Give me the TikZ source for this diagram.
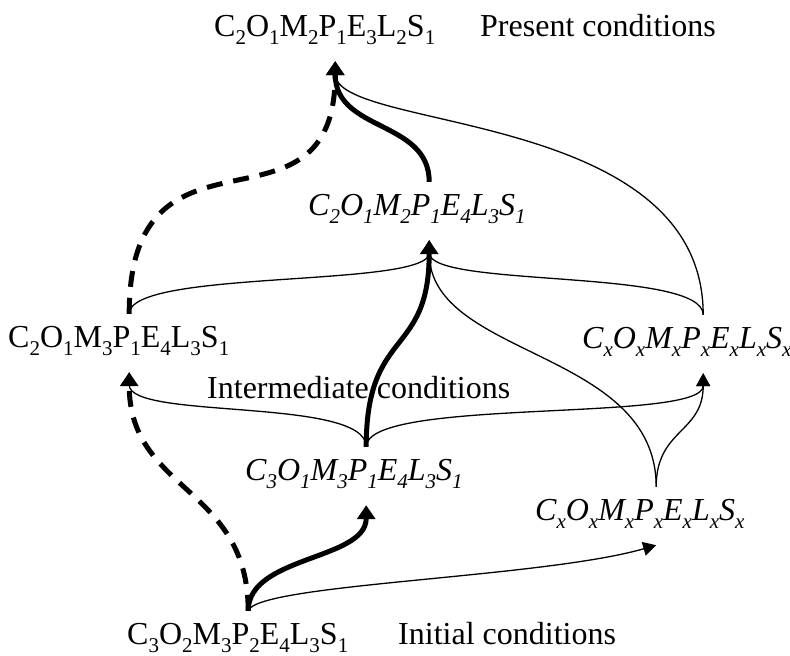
\documentclass[tikz,border=0pt]{standalone}
\usepackage{fontspec}
\setmainfont{Liberation Serif}
\usetikzlibrary{arrows.meta}
\newcommand{\sbs}[1]{\raisebox{-8pt}{\fontsize{21pt}{21pt}\selectfont #1}}

\begin{document}
\begin{tikzpicture}[
		x=1pt, y=-1pt,
		every node/.style={inner sep=0pt, anchor=base west, font=\fontsize{32pt}{38pt}\selectfont},
		state/.style={text width=242pt, text height=33pt, text depth=25pt},
		thin arrow/.style={line width=1.3pt, -{Triangle[width=14pt, length=13pt]}},
		thick arrow/.style={line width=5pt, -{Triangle[width=18pt, length=14pt]}},
		dashed arrow/.style={thick arrow, dash pattern=on 16pt off 11pt}
	]
  \useasboundingbox (0,0) rectangle (790,656);
  \node[state] (s_pres) at (214,36) {C\sbs{2}O\sbs{1}M\sbs{2}P\sbs{1}E\sbs{3}L\sbs{2}S\sbs{1}};
  \node (pres_label) at (480,36) {Present conditions};
  \node[state] (s_e) at (308,215) {\itshape C\sbs{2}O\sbs{1}M\sbs{2}P\sbs{1}E\sbs{4}L\sbs{3}S\sbs{1}};
  \node[state] (s_c) at (8,347) {C\sbs{2}O\sbs{1}M\sbs{3}P\sbs{1}E\sbs{4}L\sbs{3}S\sbs{1}};
  \node[state] (s_d) at (582,348) {\itshape C\sbs{x}O\sbs{x}M\sbs{x}P\sbs{x}E\sbs{x}L\sbs{x}S\sbs{x}};
  \node (inter_label) at (207,398) {Intermediate conditions};
  \node[state] (s_a) at (245,480) {\itshape C\sbs{3}O\sbs{1}M\sbs{3}P\sbs{1}E\sbs{4}L\sbs{3}S\sbs{1}};
  \node[state] (s_b) at (535,520) {\itshape C\sbs{x}O\sbs{x}M\sbs{x}P\sbs{x}E\sbs{x}L\sbs{x}S\sbs{x}};
  \node[state] (s_init) at (127,644) {C\sbs{3}O\sbs{2}M\sbs{3}P\sbs{2}E\sbs{4}L\sbs{3}S\sbs{1}};
  \node (init_label) at (398,644) {Initial conditions};
  % from the initial conditions
  \draw[thick arrow] (s_init.north) .. controls +(0,-55) and +(0,55) .. (s_a.south);
  \draw[dashed arrow] (s_init.north) .. controls +(0,-125) and +(0,120) .. (s_c.south);
  \draw[thin arrow] (s_init.north) .. controls +(9,-27) and +(-115,33) .. (s_b.south);
  % intermediate conditions
  \draw[thick arrow] (s_a.north) .. controls +(0,-120) and +(0,118) .. (s_e.south);
  \draw[thin arrow] (s_a.north) .. controls +(0,-50) and +(0,48) .. (s_c.south);
  \draw[thin arrow] (s_a.north) .. controls +(0,-50) and +(0,50) .. (s_d.south);
  \draw[thin arrow] (s_b.north) .. controls +(0,-58) and +(0,60) .. (s_d.south);
  \draw[thin arrow] (s_b.north) .. controls +(0,-138) and +(0,118) .. (s_e.south);
  \draw[thin arrow] (s_c.north) .. controls +(0,-45) and +(0,48) .. (s_e.south);
  \draw[thin arrow] (s_d.north) .. controls +(0,-47) and +(0,48) .. (s_e.south);
  % to the present conditions
  \draw[dashed arrow] (s_c.north) .. controls +(0,-212) and +(0,191) .. (s_pres.south);
  \draw[thin arrow] (s_d.north) .. controls +(0,-207) and +(0,71) .. (s_pres.south);
  \draw[thick arrow] (s_e.north) .. controls +(0,-62) and +(0,71) .. (s_pres.south);
\end{tikzpicture}
\end{document}
